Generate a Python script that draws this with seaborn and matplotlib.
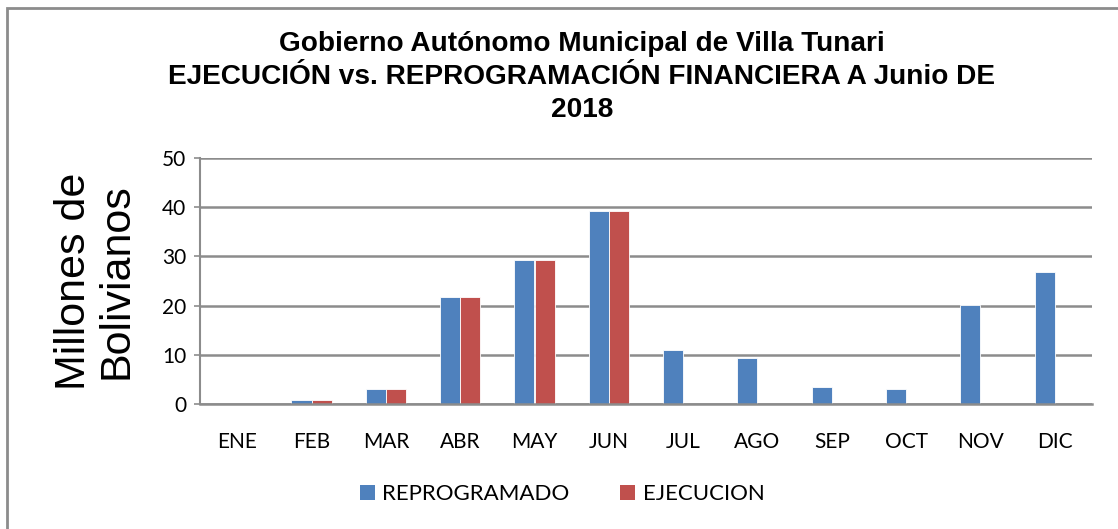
import numpy as np
import pandas as pd
import matplotlib
matplotlib.use("Agg")
import matplotlib.pyplot as plt
import seaborn as sns
from matplotlib.patches import Rectangle, Patch

months = ["ENE", "FEB", "MAR", "ABR", "MAY", "JUN", "JUL", "AGO", "SEP", "OCT", "NOV", "DIC"]
reprogramado = [0, 0.8, 3.1, 21.8, 29.2, 39.2, 10.9, 9.4, 3.5, 3.1, 20.1, 26.9]
ejecucion = [0, 0.8, 3.1, 21.8, 29.2, 39.2, np.nan, np.nan, np.nan, np.nan, np.nan, np.nan]
series = ["REPROGRAMADO", "EJECUCION"]
colors = ["#4F81BD", "#C0504D"]
yticks = [0, 10, 20, 30, 40, 50]

df = pd.DataFrame({
    "mes": months * 2,
    "valor": reprogramado + ejecucion,
    "serie": [series[0]] * len(months) + [series[1]] * len(months),
})

sns.set_theme(style="white")
plt.rcParams["font.family"] = ["Liberation Sans", "DejaVu Sans"]
plt.rcParams["text.color"] = "black"
plt.rcParams["axes.labelcolor"] = "black"

fig = plt.figure(figsize=(11.18, 5.29), dpi=100)
ax = fig.add_axes([200 / 1118, 1 - 404 / 529, 892 / 1118, 246 / 529])

sns.barplot(data=df, x="mes", y="valor", hue="serie", order=months,
            hue_order=series, palette=colors, width=0.54, ax=ax,
            edgecolor="white", linewidth=0.6, saturation=1, legend=False)

ax.set_ylim(0, 50)
ax.set_yticks(yticks)
ax.set_xlim(-0.5, len(months) - 0.5)
ax.grid(axis="y", color="#8c8c8c", linewidth=1.8, zorder=0)
ax.set_axisbelow(True)
for s in ["top", "right"]:
    ax.spines[s].set_visible(False)
ax.spines["left"].set_color("#8c8c8c")
ax.spines["left"].set_linewidth(1.5)
ax.spines["bottom"].set_color("#8c8c8c")
ax.spines["bottom"].set_linewidth(1.8)
ax.tick_params(axis="y", which="both", left=True, length=4, width=1.2,
               color="#8c8c8c", pad=6)
ax.tick_params(axis="x", bottom=False, pad=14)
for lab in ax.get_yticklabels() + ax.get_xticklabels():
    lab.set_fontfamily(["Lato", "DejaVu Sans"])
    lab.set_fontsize(15)
    lab.set_color("black")
ax.set_xlabel("")
ax.set_ylabel("Millones de\nBolivianos", fontsize=31, linespacing=1.1,
              labelpad=18, color="black")

fig.text(582 / 1118, 1 - 77 / 529,
         "Gobierno Autónomo Municipal de Villa Tunari\n"
         "EJECUCIÓN vs. REPROGRAMACIÓN FINANCIERA A Junio DE\n2018",
         ha="center", va="center", fontsize=20.2, fontweight="bold",
         linespacing=1.33, color="black")

handles = [Patch(facecolor=c, edgecolor="none") for c in colors]
leg = fig.legend(handles, series, loc="center", bbox_to_anchor=(562 / 1118, 1 - 494 / 529),
                 ncol=2, frameon=False, handlelength=0.68, handleheight=0.68,
                 columnspacing=2.3, handletextpad=0.32,
                 prop={"family": ["Lato", "DejaVu Sans"], "size": 16})
for t in leg.get_texts():
    t.set_color("black")

fig.patches.append(Rectangle((7 / 1118, -0.1), 1.2, 1 - 8 / 529 + 0.1,
                             transform=fig.transFigure, fill=False,
                             edgecolor="#8c8c8c", linewidth=2))

fig.savefig("out.png", dpi=100)
